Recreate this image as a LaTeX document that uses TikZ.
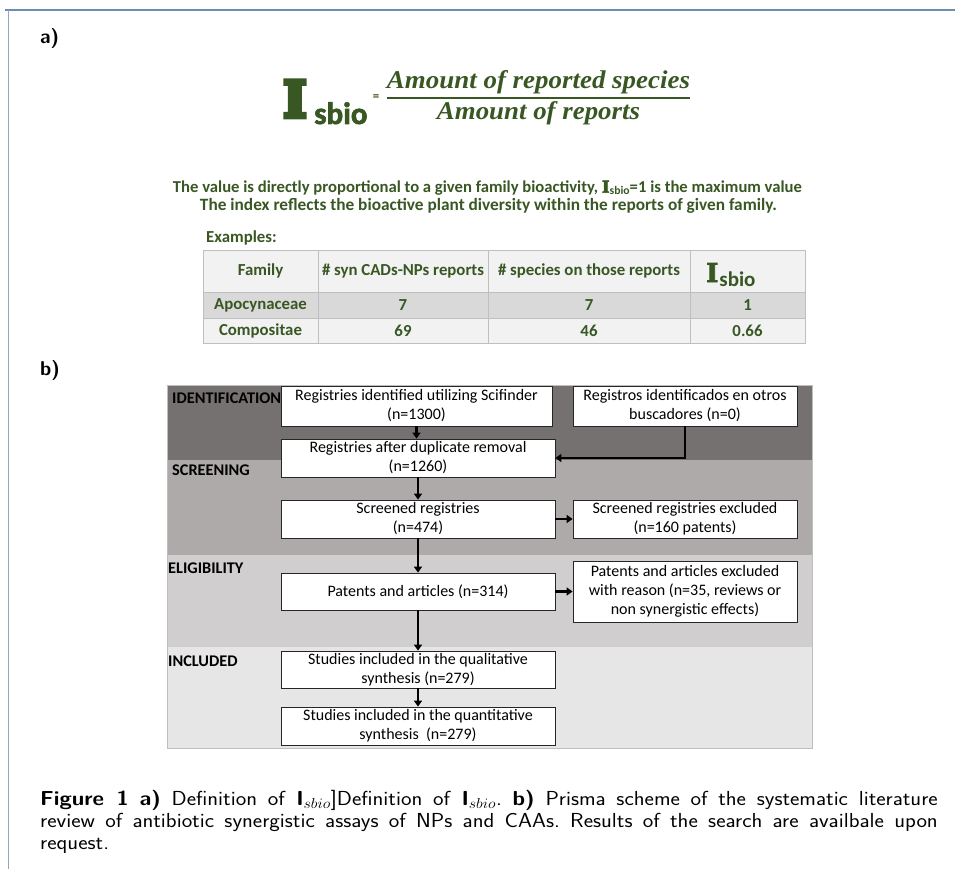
\documentclass[tikz,border=0pt]{standalone}
\usepackage{fontspec}
\usetikzlibrary{arrows.meta}
\newfontfamily\calibri{Carlito}
\newfontfamily\slabfont[FakeBold=3]{DejaVu Serif Bold}
\newfontfamily\heavyslab[FakeBold=9]{DejaVu Serif Bold}
\newfontfamily\heavycal[FakeBold=2]{Carlito Bold}
\newfontfamily\cambria{Liberation Serif}
\definecolor{fgreen}{HTML}{385723}
\definecolor{bandA}{HTML}{767171}
\definecolor{bandB}{HTML}{AEAAAA}
\definecolor{bandC}{HTML}{D0CECE}
\definecolor{bandD}{HTML}{E7E6E6}
\definecolor{tlight}{HTML}{F2F2F2}
\definecolor{tdark}{HTML}{D9D9D9}
\definecolor{tborder}{HTML}{BFBFBF}
\definecolor{frameblue}{RGB}{110,140,175}
\definecolor{frameleft}{RGB}{150,165,190}
\tikzset{
  pbox/.style={draw=black!85, line width=0.8pt, fill=white, align=center, inner sep=1pt,
    font=\calibri\fontsize{16}{19}\selectfont},
  band/.style={font=\calibri\bfseries\fontsize{16.3}{18}\selectfont, anchor=west, inner sep=0pt},
  tcell/.style={draw=tborder, line width=0.8pt},
  ttext/.style={font=\calibri\bfseries\fontsize{16.8}{18}\selectfont, text=fgreen, inner sep=0pt},
  flow/.style={line width=2.2pt, -{Triangle[length=6pt,width=8pt]}},
  lbl/.style={font=\sffamily\bfseries\fontsize{20}{22}\selectfont, anchor=north west, inner sep=0pt}
}
\begin{document}
\begin{tikzpicture}[x=1pt,y=-1pt]
\useasboundingbox (0,0) rectangle (955,869);
% frame
\draw[frameblue, line width=2pt] (5,10) -- (955,10);
\draw[frameleft, line width=1pt] (8,10) -- (8,869);
% labels
\node[lbl] (la) at (40,28) {a)};
\node[lbl] (lb) at (40,360) {b)};
% formula
\node[font=\heavyslab\fontsize{50}{50}\selectfont, text=fgreen, inner sep=0pt, anchor=base west] (bigI) at (283,117) {I};
\node[font=\heavycal\fontsize{31}{31}\selectfont, text=fgreen, inner sep=0pt, anchor=base west] (sbio) at (314,124) {sbio};
\node[font=\calibri\bfseries\fontsize{13}{13}\selectfont, text=fgreen, inner sep=0pt] (eq) at (376,98) {=};
\draw[fgreen, line width=1.6pt] (387,98) coordinate (fl) -- (690,98) coordinate (fr);
\node[text=fgreen, inner sep=0pt, anchor=base] (num) at (538.5,89) {\resizebox{303pt}{18pt}{\cambria\bfseries\itshape Amount of reported species}};
\node[text=fgreen, inner sep=0pt, anchor=base] (den) at (538.5,120) {\resizebox{203pt}{18pt}{\cambria\bfseries\itshape Amount of reports}};
% description
\node[text=fgreen, inner sep=0pt] (d1) at (487.5,188) {\resizebox{629pt}{!}{\calibri\bfseries The value is directly proportional to a given family bioactivity, {\slabfont I}\raisebox{-0.25ex}{\fontsize{7}{7}\selectfont sbio}=1 is the maximum value}};
\node[text=fgreen, inner sep=0pt] (d2) at (488.5,206) {\resizebox{577pt}{!}{\calibri\bfseries The index reflects the bioactive plant diversity within the reports of given family.}};
\node[ttext, anchor=west] (ex) at (206,238) {Examples:};
% table
\fill[tlight] (203,250) rectangle (805,292);
\fill[tdark] (203,292) rectangle (805,318);
\fill[tlight] (203,318) rectangle (805,343);
\draw[tcell] (203,250) rectangle (805,343);
\draw[tcell] (203,292) -- (805,292);
\draw[tcell] (203,318) -- (805,318);
\draw[tcell] (318,250) -- (318,343);
\draw[tcell] (488,250) -- (488,343);
\draw[tcell] (690,250) -- (690,343);
\node[ttext] (h1) at (260.5,271) {Family};
\node[ttext] (h2) at (403,271) {\# syn CADs-NPs reports};
\node[ttext] (h3) at (589,271) {\# species on those reports};
\node[ttext, anchor=base west] (h4) at (706,282) {{\slabfont\fontsize{26}{26}\selectfont I}\kern1pt{\fontsize{21}{21}\selectfont\raisebox{-4pt}{sbio}}};
\node[ttext] (r11) at (260.5,305) {Apocynaceae};
\node[ttext] (r12) at (403,305) {7};
\node[ttext] (r13) at (589,305) {7};
\node[ttext] (r14) at (747.5,305) {1};
\node[ttext] (r21) at (260.5,331) {Compositae};
\node[ttext] (r22) at (403,331) {69};
\node[ttext] (r23) at (589,331) {46};
\node[ttext] (r24) at (747.5,331) {0.66};
% prisma panel
\fill[bandA] (167,385) rectangle (812,460);
\fill[bandB] (167,460) rectangle (812,555);
\fill[bandC] (167,555) rectangle (812,647);
\fill[bandD] (167,647) rectangle (812,748);
\draw[black!25, line width=0.8pt] (167,385) rectangle (812,748);
\node[band] (sA) at (172,398) {IDENTIFICATION};
\node[band] (sB) at (172,470) {SCREENING};
\node[band] (sC) at (168,568) {ELIGIBILITY};
\node[band] (sD) at (168,661) {INCLUDED};
% boxes
\node[pbox, minimum width=271pt, minimum height=40pt] (b1) at (416.5,406) {Registries identified utilizing Scifinder\\(n=1300)};
\node[pbox, minimum width=224pt, minimum height=40pt] (b2) at (685,406) {Registros identificados en otros\\buscadores (n=0)};
\node[pbox, minimum width=274pt, minimum height=38pt] (b3) at (418,458) {Registries after duplicate removal\\(n=1260)};
\node[pbox, minimum width=274pt, minimum height=38pt] (b4) at (418,519) {Screened registries\\(n=474)};
\node[pbox, minimum width=224pt, minimum height=38pt] (b5) at (685,519) {Screened registries excluded\\(n=160 patents)};
\node[pbox, minimum width=274pt, minimum height=37pt] (b6) at (418,591.5) {Patents and articles (n=314)};
\node[pbox, minimum width=224pt, minimum height=61pt] (b7) at (685,591.5) {Patents and articles excluded\\with reason (n=35, reviews or\\non synergistic effects)};
\node[pbox, minimum width=274pt, minimum height=37pt] (b8) at (418,669.5) {Studies included in the qualitative\\synthesis (n=279)};
\node[pbox, minimum width=274pt, minimum height=38pt] (b9) at (418,726) {Studies included in the quantitative\\synthesis~ (n=279)};
% arrows
\draw[flow] (b1.south) -- (b1.south |- b3.north);
\draw[flow] (b2.south) -- (b2.south |- b3.east) -- (b3.east);
\draw[flow] (b3.south) -- (b4.north);
\draw[flow] (b4.east) -- (b5.west);
\draw[flow] (b4.south) -- (b6.north);
\draw[flow] (b6.east) -- (b7.west |- b6.east);
\draw[flow] (b6.south) -- (b8.north);
\draw[flow] (b8.south) -- (b9.north);
% caption
\node[anchor=north west, inner sep=0pt] (cap) at (40,790)
{\scalebox{1.1}[1]{\parbox{816pt}{\sffamily\fontsize{20.3}{22}\selectfont\frenchspacing\textbf{Figure 1} \textbf{a)} Definition of \textbf{I}$_{sbio}$]Definition of \textbf{I}$_{sbio}$. \textbf{b)} Prisma scheme of the systematic literature\linebreak review of antibiotic synergistic assays of NPs and CAAs. Results of the search are availbale upon\linebreak request.}}};
\end{tikzpicture}
\end{document}
